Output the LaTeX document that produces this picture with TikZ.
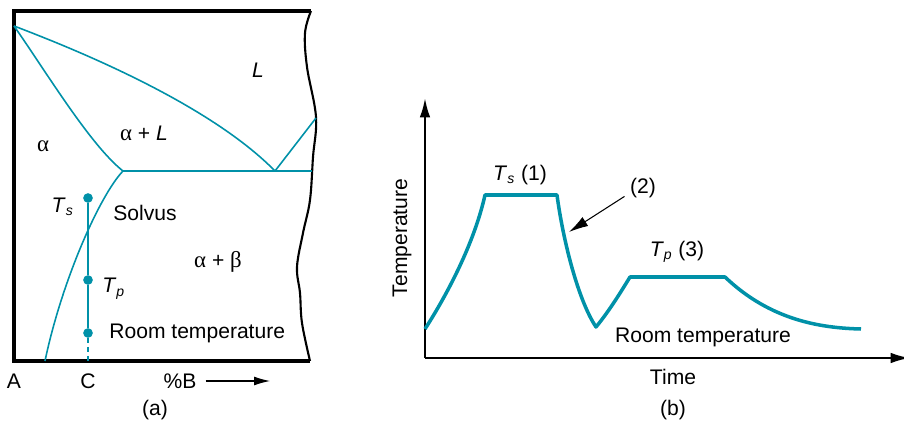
\documentclass[tikz,border=0pt]{standalone}
\usepackage{fontspec}
\setmainfont{Liberation Sans}
\newfontfamily\grk{Liberation Serif}
\usetikzlibrary{arrows.meta,positioning}
\definecolor{phase}{RGB}{0,145,168}

\begin{document}
\begin{tikzpicture}[x=0.02cm, y=-0.02cm,
    every node/.style={font=\fontsize{12}{14}\selectfont, inner sep=1pt},
    frame/.style={line width=2pt, black},
    phaseline/.style={line width=0.9pt, phase},
    cycle/.style={line width=2pt, phase, line join=round},
    axis/.style={line width=1.3pt, black, -{Latex[length=11pt,width=6pt]}},
    dot/.style={circle, fill=phase, inner sep=0pt, minimum size=5.5pt}]
    \useasboundingbox (0,0) rectangle (904,422);

    % (a) phase diagram frame
    \draw[frame] (311,11) -- (14,11) -- (14,361) -- (310,361);
    \draw[frame, line width=1.2pt] plot[smooth, tension=0.6] coordinates {(311,11) (305,33) (307,67) (316,117) (313,157) (310,200) (303,233) (297,267) (300,293) (302,323) (310,361)};

    % phase boundaries
    \coordinate (melt) at (14,26);
    \coordinate (sol) at (123,171);
    \coordinate (eut) at (275,171);
    \draw[phaseline] (melt) .. controls (130,70) and (225,120) .. (eut);
    \draw[phaseline] (melt) .. controls (45,70) and (90,145) .. (sol);
    \draw[phaseline] (sol) -- (312,171);
    \draw[phaseline] (eut) -- (316,118);
    \draw[phaseline] (sol) .. controls (100,195) and (62,280) .. (45,361);

    % alloy C path
    \node[dot] (ts) at (88,198) {};
    \node[dot] (tp) at (88,280) {};
    \node[dot] (rt) at (88,333) {};
    \coordinate (cbase) at (88,361);
    \draw[phaseline, line width=1.6pt] (ts) -- (tp) -- (rt);
    \draw[phaseline, line width=1.6pt, dash pattern=on 3pt off 2pt] (rt) -- (cbase);

    % labels (a)
    \node (liq) at (258,70) {\textit{L}};
    \node (alpha) at (43,146) {{\grk\fontsize{13}{14}\selectfont α}};
    \node (alphaL) at (144,133) {{\grk\fontsize{13}{14}\selectfont α} + \textit{L}};
    \node[left=4pt of ts, yshift=-5pt] (tslbl) {\textit{T}\textsubscript{\textit{s}}};
    \node (solvus) at (145,213) {Solvus};
    \node (ab) at (218,262) {{\grk\fontsize{13}{14}\selectfont α} + {\grk\fontsize{13}{14}\selectfont β}};
    \node[right=4pt of tp, yshift=-5pt] (tplbl) {\textit{T}\textsubscript{\textit{p}}};
    \node[right=8pt of rt] (rtlbl) {Room temperature};
    \node (lblA) at (14,381) {A};
    \node (lblC) at (88,381) {C};
    \node (lblB) at (180,381) {\%B};
    \coordinate (bend) at (270,381);
    \draw[-{Latex[length=9pt,width=5pt]}, line width=0.6pt] (lblB.east) ++(4pt,0) -- (bend);
    \node (capa) at (155,410) {(a)};

    % (b) heat treatment cycle
    \coordinate (O) at (425,358);
    \draw[axis] (O) -- (425,98);
    \draw[axis] (O) -- (910,358);
    \coordinate (start) at (425,329);
    \coordinate (s1) at (485,195);
    \coordinate (s2) at (557,195);
    \coordinate (q) at (596,327);
    \coordinate (p1) at (630,277);
    \coordinate (p2) at (725,277);
    \coordinate (fin) at (861,329);
    \draw[cycle] (start) .. controls (450,290) and (475,240) .. (s1) -- (s2)
        .. controls (563,240) and (578,300) .. (q)
        .. controls (610,310) and (622,290) .. (p1) -- (p2)
        .. controls (770,320) and (820,328) .. (fin);

    % labels (b)
    \node (ts1) at (520,175) {\textit{T}\textsubscript{\textit{s}} (1)};
    \node (tp3) at (677,252) {\textit{T}\textsubscript{\textit{p}} (3)};
    \node (quench) at (643,188) {(2)};
    \coordinate (qtip) at (569,232);
    \draw[-{Latex[length=11pt,width=6pt]}, line width=0.6pt] (quench.south west) ++(-2pt,2pt) -- (qtip);
    \node (rtb) at (703,337) {Room temperature};
    \node (time) at (673,377) {Time};
    \node[rotate=90] (temp) at (402,238) {Temperature};
    \node (capb) at (673,410) {(b)};
\end{tikzpicture}
\end{document}
